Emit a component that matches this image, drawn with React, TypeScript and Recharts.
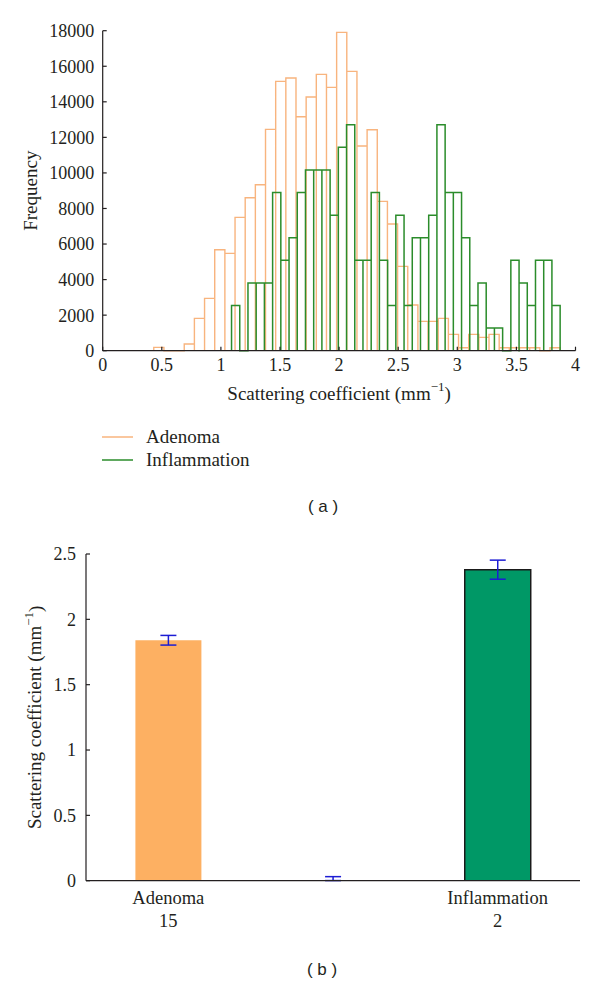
import React from 'react';
import {
  ComposedChart,
  Line,
  XAxis,
  YAxis,
  Legend,
  Label,
  BarChart,
  Bar,
  Cell,
  ErrorBar,
} from 'recharts';

// (a) histograms: 40 bins each, spread over the range of each group
const adenomaRange = [0.432, 3.87];
const inflammationRange = [1.09, 3.87];
const adenomaCounts = [
  188, 0, 0, 375, 1819, 2944, 5681, 5475, 7500, 8606,
  9338, 12450, 15150, 15338, 13163, 14269, 15544, 14813, 17906, 15713,
  11513, 12431, 8400, 7125, 4744, 2569, 1650, 1650, 1819, 919,
  169, 919, 750, 919, 169, 169, 169, 169, 0, 169,
];
const inflammationCounts = [
  2542, 0, 3813, 3813, 3813, 8897, 5084, 6355, 8897, 10168,
  10168, 10168, 7626, 11439, 12710, 5084, 5084, 8897, 5084, 2542,
  7626, 2542, 6355, 6355, 7626, 12710, 8897, 8897, 6355, 2542,
  3813, 1271, 1271, 0, 5084, 3813, 2542, 5084, 5084, 2542,
];
const histXTicks = [0, 0.5, 1, 1.5, 2, 2.5, 3, 3.5, 4];
const histYTicks = [0, 2000, 4000, 6000, 8000, 10000, 12000, 14000, 16000, 18000];

// (b) mean scattering coefficient per group
const barNames = ['Adenoma', '', 'Inflammation'];
const barCounts = ['15', '', '2'];
const barMeans = [1.84, 0.001, 2.38];
const barErrors = [[0.037, 0.037], [0, 0.03], [0.073, 0.073]];
const barYTicks = [0, 0.5, 1, 1.5, 2, 2.5];

const ORANGE_LINE = '#F8B47E';
const GREEN_LINE = '#2B8C2B';
const barFills = ['#FDB062', 'none', '#009866'];
const barStrokes = ['none', 'none', '#1A1A1A'];

const INK = '#231F20';
const SERIF = '"Liberation Serif", "Times New Roman", serif';
const tickStyle = { fill: INK, fontSize: 18, fontFamily: SERIF };

// outline of a matlab style histogram: every bin is a closed box
function histOutline(range: number[], counts: number[]) {
  const w = (range[1] - range[0]) / counts.length;
  const pts: { x: number; y: number }[] = [];
  counts.forEach((c, i) => {
    const l = range[0] + i * w;
    const r = l + w;
    pts.push({ x: l, y: 0 }, { x: l, y: c }, { x: r, y: c }, { x: r, y: 0 });
  });
  return pts;
}

const adenomaLine = histOutline(adenomaRange, adenomaCounts);
const inflammationLine = histOutline(inflammationRange, inflammationCounts);

const barData = barNames.map((name, i) => ({
  name,
  count: barCounts[i],
  mean: barMeans[i],
  err: barErrors[i],
}));

function AxisTitle({ x, y, rotate }: { x: number; y: number; rotate?: boolean }) {
  return (
    <text
      x={x}
      y={y}
      textAnchor="middle"
      dominantBaseline="central"
      transform={rotate ? `rotate(-90 ${x} ${y})` : undefined}
      fill={INK}
      fontSize={19}
      fontFamily={SERIF}
    >
      Scattering coefficient (mm
      <tspan dy={-7} fontSize={13}>−1</tspan>
      <tspan dy={7}>)</tspan>
    </text>
  );
}

function CategoryTick(props: any) {
  const { x, y, payload, index } = props;
  return (
    <text x={x} y={y} textAnchor="middle" fill={INK} fontSize={18.5} fontFamily={SERIF}>
      <tspan x={x} dy={23.3}>{payload.value}</tspan>
      <tspan x={x} dy={22.7}>{barCounts[index]}</tspan>
    </text>
  );
}

function HistLegend({ payload }: any) {
  return (
    <div>
      {(payload || []).map((p: any) => (
        <div key={p.value} style={{ display: 'flex', alignItems: 'center', height: 23.3 }}>
          <svg width={31} height={4} style={{ display: 'block' }}>
            <line x1={0} x2={31} y1={2} y2={2} stroke={p.color} strokeWidth={1.5} />
          </svg>
          <span style={{ marginLeft: 13, fontSize: 19, fontFamily: SERIF, color: INK, lineHeight: '23.3px' }}>
            {p.value}
          </span>
        </div>
      ))}
    </div>
  );
}

function Caption({ text, cx, cy }: { text: string; cx: number; cy: number }) {
  return (
    <div
      style={{
        position: 'absolute',
        left: cx - 50,
        top: cy - 11,
        width: 100,
        height: 22,
        lineHeight: '22px',
        textAlign: 'center',
        fontFamily: '"Liberation Sans", Arial, sans-serif',
        fontSize: 17,
        color: INK,
        whiteSpace: 'pre',
      }}
    >
      {text}
    </div>
  );
}

export default function App() {
  return (
    <div style={{ position: 'absolute', left: 0, top: 0, width: 600, height: 983, background: '#fff' }}>
      <div style={{ position: 'absolute', left: 0, top: 0 }}>
        <ComposedChart width={600} height={480} margin={{ top: 30.7, right: 24.5, bottom: 79.3, left: 0 }}>
          <XAxis
            type="number"
            dataKey="x"
            domain={[0, 4]}
            ticks={histXTicks}
            height={50}
            tick={tickStyle}
            tickSize={-4}
            tickMargin={11.2}
            axisLine={{ stroke: INK, strokeWidth: 1.2 }}
            tickLine={{ stroke: INK, strokeWidth: 1.2 }}
          >
            <Label content={(p: any) => <AxisTitle x={p.viewBox.x + p.viewBox.width / 2} y={p.viewBox.y + 42.5} />} />
          </XAxis>
          <YAxis
            type="number"
            domain={[0, 18000]}
            ticks={histYTicks}
            width={102.7}
            tick={tickStyle}
            tickSize={-4}
            tickMargin={12.5}
            axisLine={{ stroke: INK, strokeWidth: 1.2 }}
            tickLine={{ stroke: INK, strokeWidth: 1.2 }}
          >
            <Label
              content={(p: any) => {
                const cx = 31;
                const cy = p.viewBox.y + p.viewBox.height / 2;
                return (
                  <text
                    x={cx}
                    y={cy}
                    textAnchor="middle"
                    dominantBaseline="central"
                    transform={`rotate(-90 ${cx} ${cy})`}
                    fill={INK}
                    fontSize={19}
                    fontFamily={SERIF}
                  >
                    Frequency
                  </text>
                );
              }}
            />
          </YAxis>
          <Line
            data={adenomaLine}
            dataKey="y"
            name="Adenoma"
            type="linear"
            stroke={ORANGE_LINE}
            strokeWidth={1.4}
            dot={false}
            activeDot={false}
            isAnimationActive={false}
          />
          <Line
            data={inflammationLine}
            dataKey="y"
            name="Inflammation"
            type="linear"
            stroke={GREEN_LINE}
            strokeWidth={1.5}
            dot={false}
            activeDot={false}
            isAnimationActive={false}
          />
          <Legend
            layout="vertical"
            align="center"
            verticalAlign="middle"
            wrapperStyle={{ left: 102, top: 425, width: 220 }}
            content={HistLegend}
          />
        </ComposedChart>
      </div>
      <Caption text="( a )" cx={323} cy={506.7} />

      <div style={{ position: 'absolute', left: 0, top: 540 }}>
        <BarChart
          width={600}
          height={400}
          data={barData}
          margin={{ top: 14, right: 20, bottom: 9.3, left: 0 }}
          barCategoryGap="30%"
        >
          <XAxis
            dataKey="name"
            height={50}
            interval={0}
            tickLine={false}
            tickSize={0}
            tickMargin={0}
            tick={<CategoryTick />}
            axisLine={{ stroke: INK, strokeWidth: 1.3 }}
          />
          <YAxis
            type="number"
            domain={[0, 2.5]}
            ticks={barYTicks}
            allowDataOverflow
            width={86}
            tick={tickStyle}
            tickSize={-4}
            tickMargin={14}
            axisLine={{ stroke: INK, strokeWidth: 1.2 }}
            tickLine={{ stroke: INK, strokeWidth: 1.2 }}
          >
            <Label
              content={(p: any) => (
                <AxisTitle x={35} y={p.viewBox.y + p.viewBox.height / 2} rotate />
              )}
            />
          </YAxis>
          <Bar dataKey="mean" isAnimationActive={false} strokeWidth={1.5}>
            {barData.map((d, i) => (
              <Cell key={d.name || 'gap'} fill={barFills[i]} stroke={barStrokes[i]} />
            ))}
            <ErrorBar dataKey="err" direction="y" width={8} stroke="#1C1CD4" strokeWidth={1.5} />
          </Bar>
        </BarChart>
      </div>
      <Caption text="( b )" cx={322} cy={970} />
    </div>
  );
}
